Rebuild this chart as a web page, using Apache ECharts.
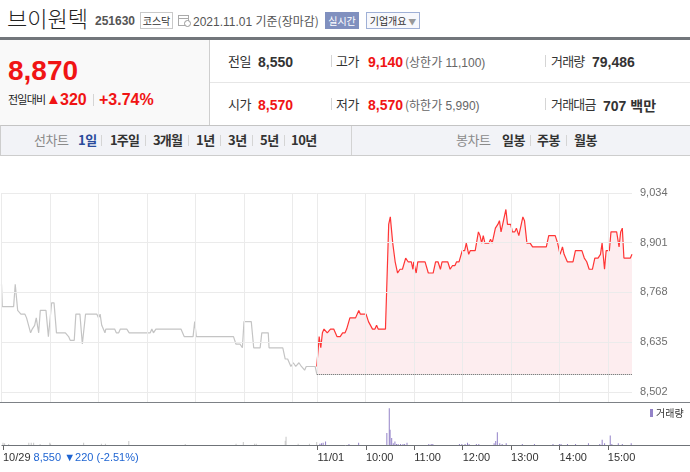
<!DOCTYPE html>
<html><head><meta charset="utf-8">
<script src="https://cdn.jsdelivr.net/npm/echarts@6/dist/echarts.min.js"></script>
<style>
html,body{margin:0;padding:0;background:#fff;}
body{width:690px;height:472px;position:relative;overflow:hidden;font-family:"Liberation Sans",Arial,"Noto Sans CJK KR",sans-serif;color:#333;}
.a{position:absolute;white-space:nowrap;}
.k{font-family:"Noto Sans CJK KR","Liberation Sans",sans-serif;}
.b{font-weight:bold;}
.red{color:#f01414;}
.sep{position:absolute;width:1px;background:#d5d5d5;}
#chart{position:absolute;left:0;top:155px;width:690px;height:317px;}
</style></head>
<body>
<!-- header -->
<div class="a k" style="left:7px;top:5px;font-size:22px;line-height:24px;color:#222;font-weight:300;">브이원텍</div>
<div class="a b" style="left:95px;top:14px;font-size:12px;line-height:14px;color:#555;">251630</div>
<div class="a k" style="left:140px;top:12px;width:31px;height:15px;border:1px solid #c9c9c9;font-size:10px;line-height:15px;text-align:center;color:#333;">코스닥</div>
<svg class="a" style="left:178px;top:14px" width="13" height="13" viewBox="0 0 13 13"><rect x="0.5" y="1.5" width="10" height="10" fill="#fff" stroke="#aaa"/><line x1="0.5" y1="4.5" x2="10.5" y2="4.5" stroke="#aaa"/><circle cx="9.5" cy="9.5" r="3" fill="#fff" stroke="#999"/></svg>
<div class="a" style="left:193px;top:13px;font-size:12px;line-height:15px;color:#555;">2021.11.01 <span class="k">기준(장마감)</span></div>
<div class="a k" style="left:325px;top:12px;width:34px;height:17px;background:#8090bf;color:#fff;font-size:10px;line-height:17px;text-align:center;">실시간</div>
<div class="a k" style="left:366px;top:12px;width:52px;height:15px;border:1px solid #9fb0d6;background:#f7f8fc;color:#333;font-size:10px;line-height:15px;text-align:center;">기업개요<span style="color:#999;font-size:8px;"> ▼</span></div>
<div class="a" style="left:0;top:37px;width:690px;height:3px;background:#72767b;"></div>

<!-- price summary -->
<div class="a" style="left:0;top:40px;width:209px;height:85px;background:#f9f9f9;border-right:1px solid #cfcfcf;"></div>
<div class="a b red" style="left:8px;top:57px;font-size:28px;line-height:28px;">8,870</div>
<div class="a k" style="left:8px;top:92px;font-size:11px;line-height:15px;color:#222;letter-spacing:-0.8px;">전일대비</div>
<div class="a red" style="left:46px;top:90px;font-size:15px;line-height:18px;">▲</div>
<div class="a b red" style="left:60px;top:92px;font-size:16px;line-height:16px;">320</div>
<div class="sep" style="left:93px;top:94px;height:12px;"></div>
<div class="a b red" style="left:99px;top:92px;font-size:16px;line-height:16px;">+3.74%</div>

<div class="a" style="left:210px;top:82px;width:480px;height:1px;background:#e6e6e6;"></div>
<!-- row 1 -->
<div class="a k" style="left:228px;top:53px;font-size:13px;line-height:16px;letter-spacing:-0.5px;">전일</div>
<div class="a b" style="left:258px;top:54px;font-size:14px;line-height:16px;">8,550</div>
<div class="sep" style="left:331px;top:55px;height:12px;"></div>
<div class="a k" style="left:336px;top:53px;font-size:13px;line-height:16px;letter-spacing:-0.5px;">고가</div>
<div class="a b red" style="left:368px;top:54px;font-size:14px;line-height:16px;">9,140</div>
<div class="a" style="left:405px;top:54px;font-size:12px;line-height:16px;color:#666;"><span class="k">(상한가</span> 11,100)</div>
<div class="sep" style="left:545px;top:55px;height:12px;"></div>
<div class="a k" style="left:551px;top:53px;font-size:13px;line-height:16px;letter-spacing:-0.8px;">거래량</div>
<div class="a b" style="left:592px;top:54px;font-size:14px;line-height:16px;">79,486</div>
<!-- row 2 -->
<div class="a k" style="left:228px;top:96px;font-size:13px;line-height:16px;letter-spacing:-0.5px;">시가</div>
<div class="a b red" style="left:258px;top:97px;font-size:14px;line-height:16px;">8,570</div>
<div class="sep" style="left:331px;top:98px;height:12px;"></div>
<div class="a k" style="left:336px;top:96px;font-size:13px;line-height:16px;letter-spacing:-0.5px;">저가</div>
<div class="a b red" style="left:368px;top:97px;font-size:14px;line-height:16px;">8,570</div>
<div class="a" style="left:405px;top:97px;font-size:12px;line-height:16px;color:#666;"><span class="k">(하한가</span> 5,990)</div>
<div class="sep" style="left:545px;top:98px;height:12px;"></div>
<div class="a k" style="left:551px;top:96px;font-size:13px;line-height:16px;letter-spacing:-0.8px;">거래대금</div>
<div class="a b" style="left:603px;top:97px;font-size:14px;line-height:16px;">707 <span class="k">백만</span></div>

<!-- tab bar -->
<div class="a" style="left:0;top:125px;width:689px;height:29px;background:#f2f3f7;border:1px solid #cdcdcd;border-top-color:#c4c4c4;"></div>
<div class="a" style="left:351px;top:126px;width:1px;height:29px;background:#d3d3d3;"></div>
<div class="a k" style="left:34px;top:132px;font-size:13px;line-height:16px;color:#8a8a8a;letter-spacing:-0.5px;">선차트</div>
<div class="a k b" style="left:78px;top:132px;font-size:13px;line-height:16px;color:#2a4c9c;letter-spacing:-0.5px;">1일</div>
<div class="sep" style="left:101px;top:135px;height:11px;"></div>
<div class="a k b" style="left:110px;top:132px;font-size:13px;line-height:16px;letter-spacing:-0.8px;">1주일</div>
<div class="sep" style="left:145px;top:135px;height:11px;"></div>
<div class="a k b" style="left:153px;top:132px;font-size:13px;line-height:16px;letter-spacing:-0.8px;">3개월</div>
<div class="sep" style="left:188px;top:135px;height:11px;"></div>
<div class="a k b" style="left:196px;top:132px;font-size:13px;line-height:16px;letter-spacing:-0.5px;">1년</div>
<div class="sep" style="left:220px;top:135px;height:11px;"></div>
<div class="a k b" style="left:228px;top:132px;font-size:13px;line-height:16px;letter-spacing:-0.5px;">3년</div>
<div class="sep" style="left:252px;top:135px;height:11px;"></div>
<div class="a k b" style="left:260px;top:132px;font-size:13px;line-height:16px;letter-spacing:-0.5px;">5년</div>
<div class="sep" style="left:284px;top:135px;height:11px;"></div>
<div class="a k b" style="left:291px;top:132px;font-size:13px;line-height:16px;letter-spacing:-0.5px;">10년</div>
<div class="a k" style="left:456px;top:132px;font-size:13px;line-height:16px;color:#8a8a8a;letter-spacing:-0.5px;">봉차트</div>
<div class="a k b" style="left:502px;top:132px;font-size:13px;line-height:16px;letter-spacing:-0.5px;">일봉</div>
<div class="sep" style="left:530px;top:135px;height:11px;"></div>
<div class="a k b" style="left:537px;top:132px;font-size:13px;line-height:16px;letter-spacing:-0.5px;">주봉</div>
<div class="sep" style="left:566px;top:135px;height:11px;"></div>
<div class="a k b" style="left:574px;top:132px;font-size:13px;line-height:16px;letter-spacing:-0.5px;">월봉</div>

<div id="chart"></div>
<script>
// ---------- data ----------
const prevClose = 8550;
const yTickValues = [8502, 8635, 8768, 8901, 9034];
const xTickTimes = ['10/29 09:00', '11/01 09:00', '11/01 10:00', '11/01 11:00', '11/01 12:00', '11/01 13:00', '11/01 14:00', '11/01 15:00'];
const xTickLabels = ['10/29', '11/01', '10:00', '11:00', '12:00', '13:00', '14:00', '15:00'];
const prevDayInfo = '8,550 ▼220 (-2.51%)';
const gridHours = ['10:00', '11:00', '12:00', '13:00', '14:00', '15:00'];

const day1Times = ['09:00','09:01','09:15','09:17','09:20','09:24','09:29','09:31','09:36','09:38','09:41','09:43','09:46','09:48','09:55','09:58','10:00','10:02','10:05','10:08','10:19','10:23','10:25','10:30','10:32','10:37','10:40','10:42','10:44','10:58','11:00','11:02','11:04','11:08','11:09','11:20','11:22','11:25','11:27','11:35','11:38','12:04','12:06','12:08','12:11','12:42','12:46','12:57','12:59','13:01','13:47','13:50','13:55','13:58','14:00','14:09','14:12','14:20','14:22','14:30','14:31','14:48','14:51','14:54','14:58','15:01','15:04','15:08','15:11','15:15','15:17','15:28','15:30'];
const day1Prices = [8790,8730,8730,8790,8720,8710,8710,8700,8660,8670,8680,8700,8660,8720,8720,8650,8650,8740,8740,8660,8660,8650,8640,8640,8710,8710,8630,8630,8710,8710,8700,8710,8680,8660,8670,8670,8660,8660,8670,8670,8660,8660,8670,8660,8670,8670,8650,8650,8690,8650,8650,8630,8630,8620,8690,8690,8620,8620,8660,8660,8620,8620,8590,8590,8570,8580,8570,8580,8570,8560,8570,8570,8550];

const day2Times = ['09:00','09:03','09:05','09:07','09:09','09:11','09:13','09:15','09:17','09:21','09:25','09:29','09:32','09:35','09:37','09:41','09:48','09:52','09:54','10:01','10:04','10:09','10:12','10:14','10:16','10:25','10:29','10:31','10:34','10:37','10:40','10:43','10:46','10:50','10:53','10:57','10:59','11:00','11:03','11:05','11:14','11:18','11:24','11:27','11:30','11:33','11:35','11:42','11:45','11:48','11:51','11:53','11:56','12:00','12:03','12:05','12:06','12:08','12:10','12:16','12:20','12:22','12:24','12:26','12:28','12:33','12:35','12:37','12:41','12:44','12:46','12:48','12:51','12:54','12:56','13:00','13:02','13:05','13:07','13:10','13:13','13:15','13:17','13:20','13:24','13:27','13:44','13:47','13:55','13:58','14:01','14:04','14:06','14:10','14:17','14:20','14:28','14:31','14:34','14:37','14:41','14:44','14:48','14:51','14:53','14:56','14:58','15:02','15:04','15:11','15:14','15:16','15:18','15:20','15:28','15:30'];
const day2Prices = [8570,8650,8620,8660,8670,8670,8660,8660,8670,8670,8650,8650,8660,8660,8670,8700,8700,8720,8710,8710,8690,8670,8670,8680,8670,8670,8950,8970,8900,8850,8820,8830,8830,8860,8850,8850,8830,8850,8820,8850,8850,8820,8820,8850,8850,8830,8850,8850,8830,8840,8840,8850,8850,8880,8880,8900,8900,8870,8880,8880,8930,8920,8900,8920,8900,8900,8910,8900,8940,8950,8960,8930,8960,8990,8950,8950,8930,8930,8940,8920,8950,8970,8960,8900,8900,8890,8890,8920,8920,8900,8870,8890,8870,8850,8850,8880,8880,8860,8850,8830,8830,8860,8860,8870,8900,8830,8880,8880,8930,8930,8890,8930,8940,8860,8860,8870];

const day1VolTimes = ['09:00','09:02','09:07','09:32','09:35','09:38','09:46','09:58','09:59','10:40','11:02','11:07','11:36','12:46','13:49','13:58','14:12','14:14','14:50','14:51','15:06','15:20','15:29'];
const day1Volumes = [1100,800,500,1100,1100,1100,500,1100,600,1100,600,600,1900,500,600,1400,600,600,2000,3800,600,600,1400];

const day2VolTimes = ['09:03','09:05','09:07','09:10','09:39','09:51','10:26','10:29','10:30','10:32','10:34','10:36','10:38','10:40','10:43','10:46','10:48','10:51','11:18','11:21','11:23','11:56','11:59','12:03','12:06','12:08','12:17','12:20','12:39','12:41','12:43','12:46','12:49','12:54','13:14','13:29','13:52','14:00','14:02','14:10','14:20','14:36','14:50','14:53','14:56','15:03','15:05','15:13','15:18','15:29'];
const day2Volumes = [600,800,1100,1600,500,1100,5600,17100,7100,3200,800,1600,500,500,500,500,500,1100,500,500,500,500,500,500,1100,500,500,500,800,1900,5900,800,500,800,500,500,500,500,500,500,500,800,500,2400,800,4400,500,800,500,800];

// ---------- helpers ----------
const OPEN_MIN = 9 * 60, SESSION = 390;
function toX(day, t) { const [h, m] = t.split(':').map(Number); return day * SESSION + h * 60 + m - OPEN_MIN; }
function tickToX(s) { const [d, t] = s.split(' '); return toX(d === '10/29' ? 0 : 1, t); }
const xTicks = xTickTimes.map(tickToX);
const vGrid = [0].concat(gridHours.map(t => toX(0, t)), gridHours.map(t => toX(1, t)), [toX(1, '09:00')]);

const day1Data = day1Times.map((t, i) => [toX(0, t), day1Prices[i]]);
const day2Data = day2Times.map((t, i) => [toX(1, t), day2Prices[i]]);
const volData = day1VolTimes.map((t, i) => ({ value: [toX(0, t), day1Volumes[i]], itemStyle: { color: '#c6c6c6' } }))
  .concat(day2VolTimes.map((t, i) => ({ value: [toX(1, t), day2Volumes[i]] })));

const FONT = '"Liberation Sans", Arial, "Noto Sans CJK KR", sans-serif';
const chart = echarts.init(document.getElementById('chart'));
const GL = 1.5, GR = 58;
chart.setOption({
  animation: false,
  textStyle: { fontFamily: FONT },
  grid: [
    { left: GL, right: GR, top: 38, height: 209 },
    { left: GL, right: GR, top: 247, height: 43 }
  ],
  legend: {
    data: ['거래량'], left: 650, top: 253, icon: 'rect', itemWidth: 3, itemHeight: 8, itemGap: 0,
    selectedMode: false, padding: 0,
    textStyle: { fontSize: 10, color: '#333', padding: [0, 0, 0, -2], fontFamily: '"Noto Sans CJK KR", sans-serif' }
  },
  xAxis: [
    { gridIndex: 0, type: 'value', min: 0, max: 2 * SESSION, show: false },
    {
      gridIndex: 1, type: 'value', min: 0, max: 2 * SESSION,
      axisLine: { show: false }, splitLine: { show: false },
      axisTick: { show: true, customValues: xTicks, length: 5, lineStyle: { color: '#666' } },
      axisLabel: {
        customValues: xTicks, align: 'left', margin: 7, fontSize: 11, color: '#333',
        formatter: function (v) {
          const i = xTicks.indexOf(v);
          if (i === 0) return '{d|' + xTickLabels[0] + '} {b|' + prevDayInfo + '}';
          return i >= 0 ? xTickLabels[i] : '';
        },
        rich: { d: { fontSize: 11, color: '#333' }, b: { fontSize: 11, color: '#1e64d2' } }
      }
    }
  ],
  yAxis: [
    {
      gridIndex: 0, type: 'value', min: 8475, max: 9034, position: 'right',
      axisLine: { show: false }, axisTick: { show: false }, splitLine: { show: false },
      axisLabel: { customValues: yTickValues, margin: 8, fontSize: 11, color: '#6e6e6e',
        formatter: v => echarts.format.addCommas(v) }
    },
    { gridIndex: 1, type: 'value', min: 0, max: 20000, show: false }
  ],
  graphic: [
    { type: 'line', z: 100, shape: { x1: 0, y1: 247.5, x2: 690, y2: 247.5 }, style: { stroke: '#7d8186', lineWidth: 1 } },
    { type: 'line', z: 100, shape: { x1: GL, y1: 290.5, x2: 690, y2: 290.5 }, style: { stroke: '#6f7378', lineWidth: 1 } }
  ],
  series: [
    {
      name: 'grid', type: 'line', xAxisIndex: 0, yAxisIndex: 0, z: 1, silent: true,
      data: [[0, 9034]], showSymbol: false, lineStyle: { opacity: 0 },
      markLine: {
        silent: true, animation: false, symbol: ['none', 'none'], label: { show: false },
        lineStyle: { color: '#ebebeb', width: 1, type: 'solid' }, emphasis: { disabled: true },
        data: vGrid.map(x => ({ xAxis: x })).concat(yTickValues.map(y => ({ yAxis: y })))
      }
    },
    {
      name: '10/29', type: 'line', xAxisIndex: 0, yAxisIndex: 0, z: 3, data: day1Data,
      showSymbol: false, symbol: 'none', lineStyle: { color: '#c4c4c4', width: 1.2 }, itemStyle: { color: '#c4c4c4' }
    },
    {
      name: '11/01', type: 'line', xAxisIndex: 0, yAxisIndex: 0, z: 4, data: day2Data,
      showSymbol: false, symbol: 'none', lineStyle: { color: '#ff3535', width: 1.2 }, itemStyle: { color: '#ff3535' },
      areaStyle: { color: 'rgba(247,165,175,0.28)', origin: prevClose },
      markLine: {
        silent: true, animation: false, symbol: ['none', 'none'], label: { show: false },
        lineStyle: { color: '#555', width: 1, type: 'dotted' }, emphasis: { disabled: true },
        data: [[{ coord: [toX(1, '09:00'), prevClose] }, { coord: [2 * SESSION, prevClose] }]]
      }
    },
    {
      name: '거래량', type: 'bar', xAxisIndex: 1, yAxisIndex: 1, barWidth: 1, data: volData,
      itemStyle: { color: '#9382c8' }
    }
  ]
});
</script>
</body></html>
